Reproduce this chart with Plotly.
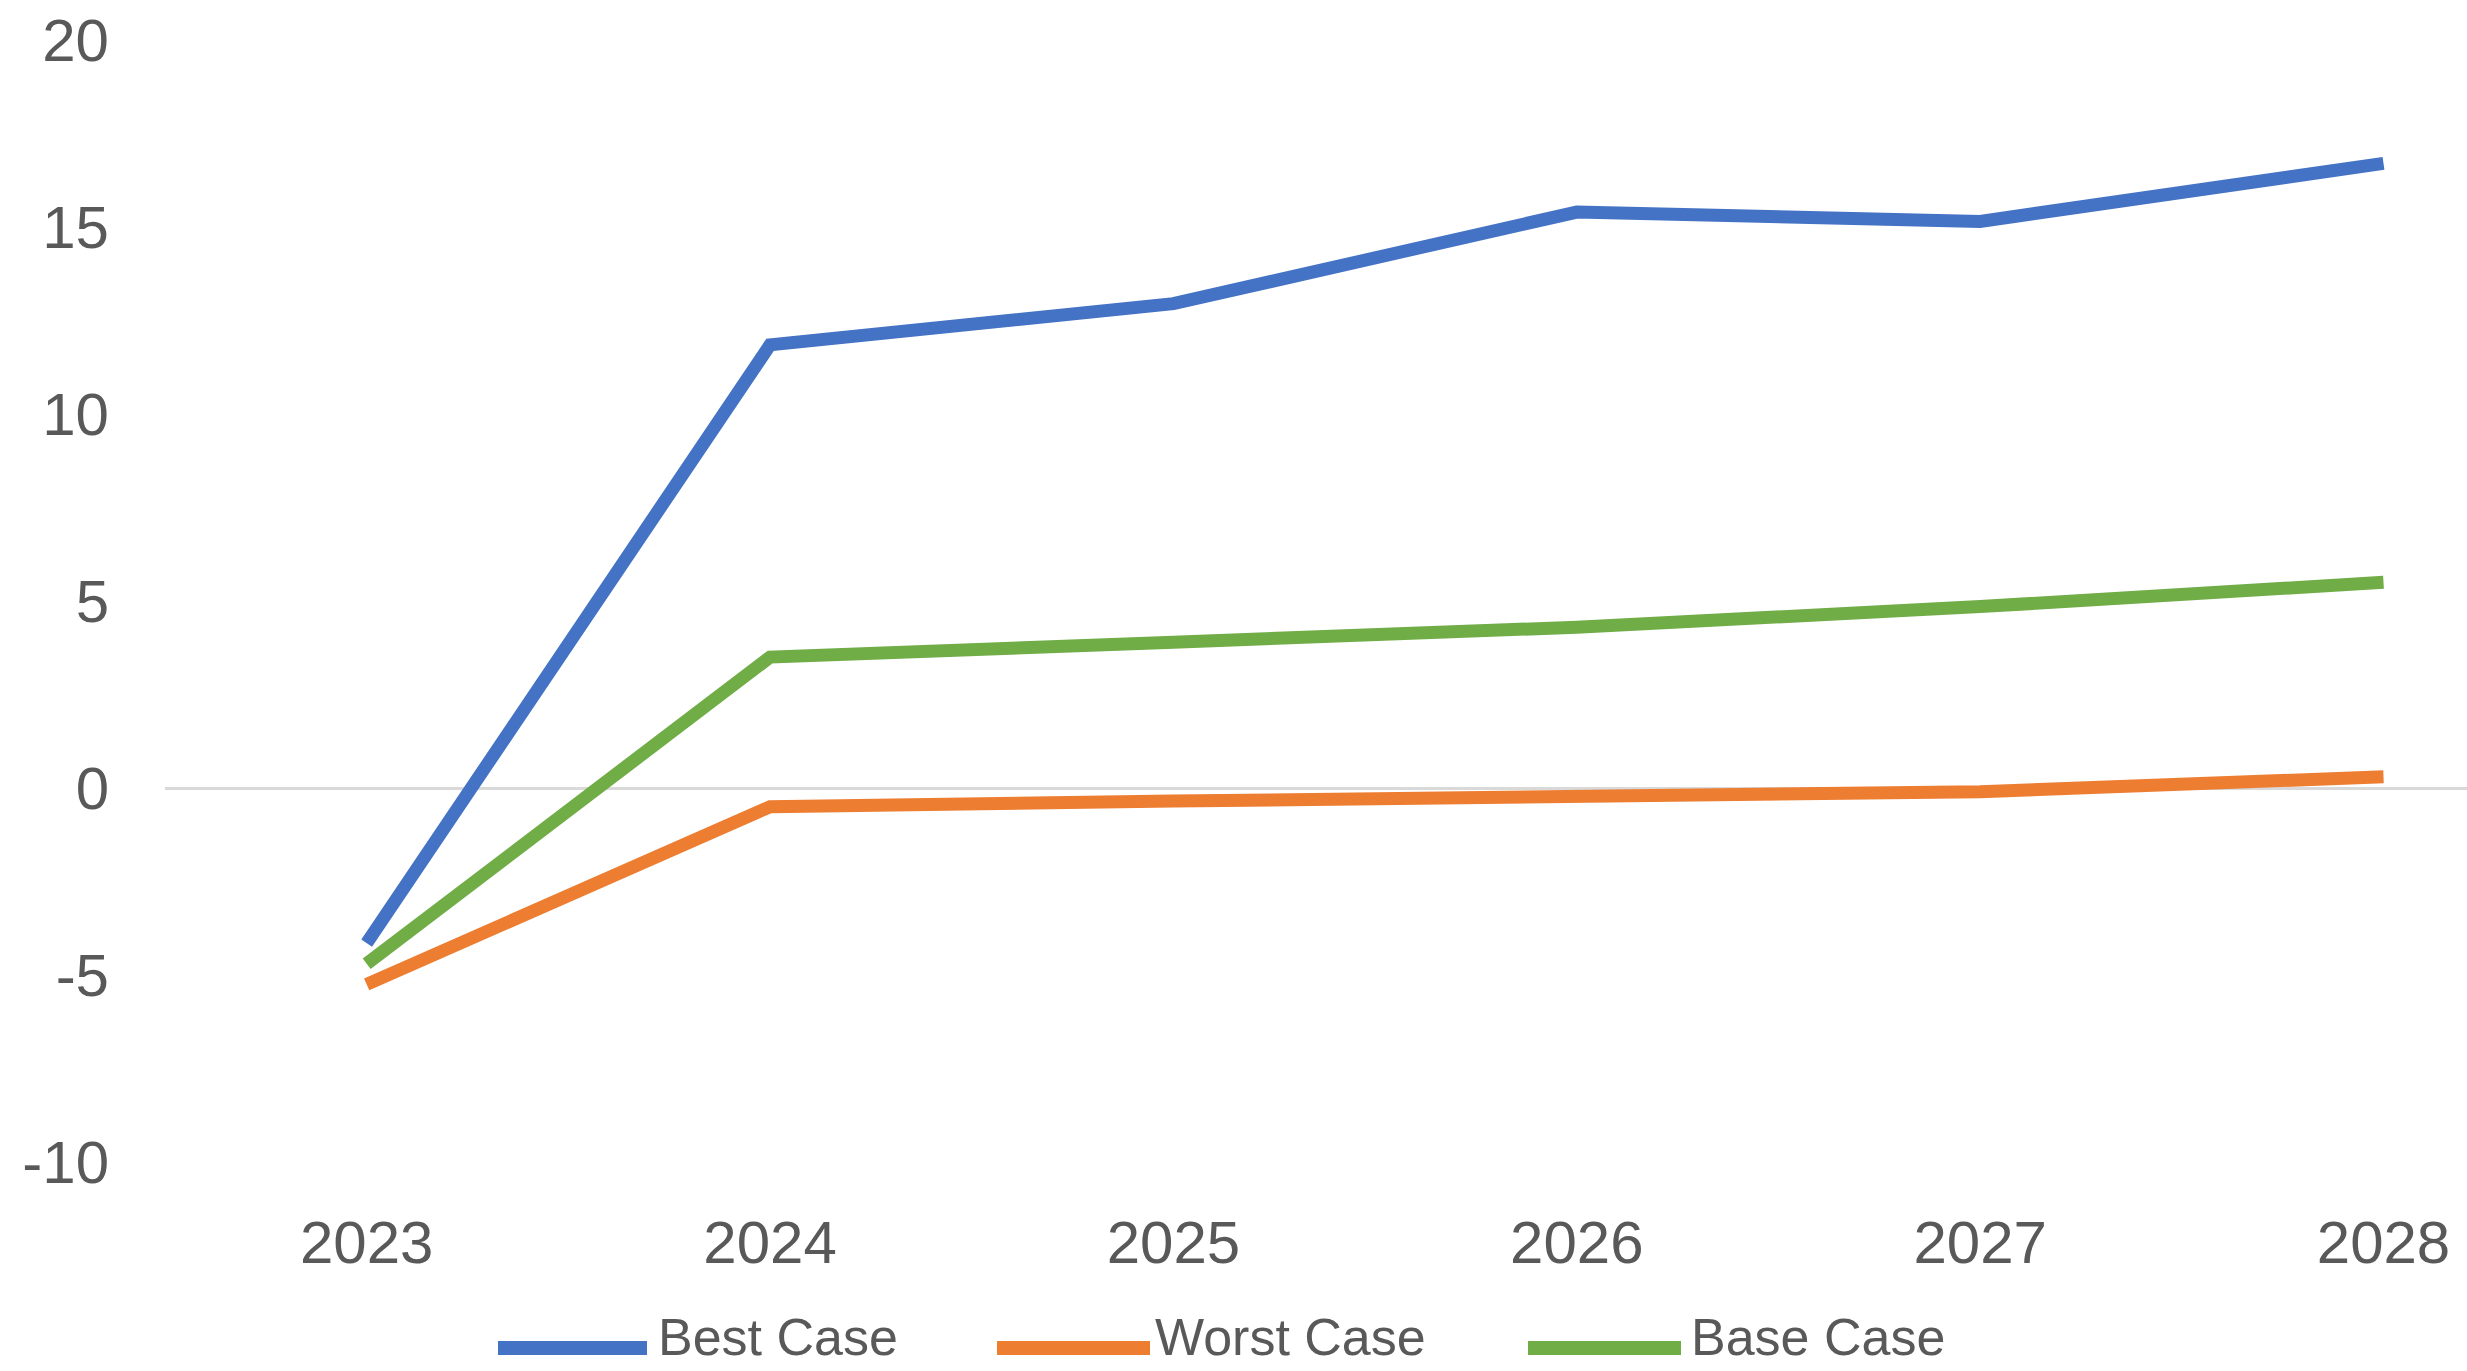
import plotly.graph_objects as go

# ---- data ----
years = ["2023", "2024", "2025", "2026", "2027", "2028"]
best_case = [-4.15, 11.85, 12.95, 15.4, 15.15, 16.7]
worst_case = [-5.25, -0.5, -0.35, -0.25, -0.1, 0.3]
base_case = [-4.7, 3.5, 3.9, 4.3, 4.85, 5.5]
series_names = ["Best Case", "Worst Case", "Base Case"]
y_ticks = [-10, -5, 0, 5, 10, 15, 20]

# ---- style ----
colors = ["#4472C4", "#ED7D31", "#70AD47"]
W, H = 2467, 1371
ML, MR, MT, MB = 165, 0, 40, 209
FONT = "Liberation Sans"
TXT = "#595959"

fig = go.Figure()
for name, vals, col in zip(series_names, [best_case, worst_case, base_case], colors):
    fig.add_trace(go.Scatter(x=years, y=vals, mode="lines", name=name,
                             line=dict(color=col, width=13), showlegend=False))

def px_x(x):
    return (x - ML) / (W - ML - MR)

def px_y(y):
    return (H - MB - y) / (H - MT - MB)

# custom legend (long line samples like the original)
legend_layout = [(498, 647, 656), (997, 1150, 1153), (1528, 1681, 1689)]
leg_y = 1348
for name, col, (x0, x1, tx) in zip(series_names, colors, legend_layout):
    fig.add_shape(type="line", xref="paper", yref="paper",
                  x0=px_x(x0), x1=px_x(x1), y0=px_y(leg_y), y1=px_y(leg_y),
                  line=dict(color=col, width=14))
    fig.add_annotation(xref="paper", yref="paper", x=px_x(tx), y=px_y(1337),
                       text=name, showarrow=False, xanchor="left", yanchor="middle",
                       font=dict(family=FONT, size=52, color=TXT))

fig.update_layout(
    width=W, height=H,
    margin=dict(l=ML, r=MR, t=MT, b=MB, pad=0),
    paper_bgcolor="white", plot_bgcolor="white",
    showlegend=False,
    font=dict(family=FONT, color=TXT, size=60),
)
fig.update_xaxes(type="category", range=[-0.5, 5.207], showgrid=False, zeroline=False,
                 showline=False, ticks="", ticklabelstandoff=40,
                 tickfont=dict(family=FONT, size=60, color=TXT))
fig.update_yaxes(range=[-10, 20], tickvals=y_ticks, ticktext=[str(v) for v in y_ticks],
                 showgrid=False, zeroline=True,
                 zerolinecolor="#D9D9D9", zerolinewidth=3, showline=False, ticks="",
                 ticklabelstandoff=55,
                 tickfont=dict(family=FONT, size=60, color=TXT))

fig.write_html("out.html")
